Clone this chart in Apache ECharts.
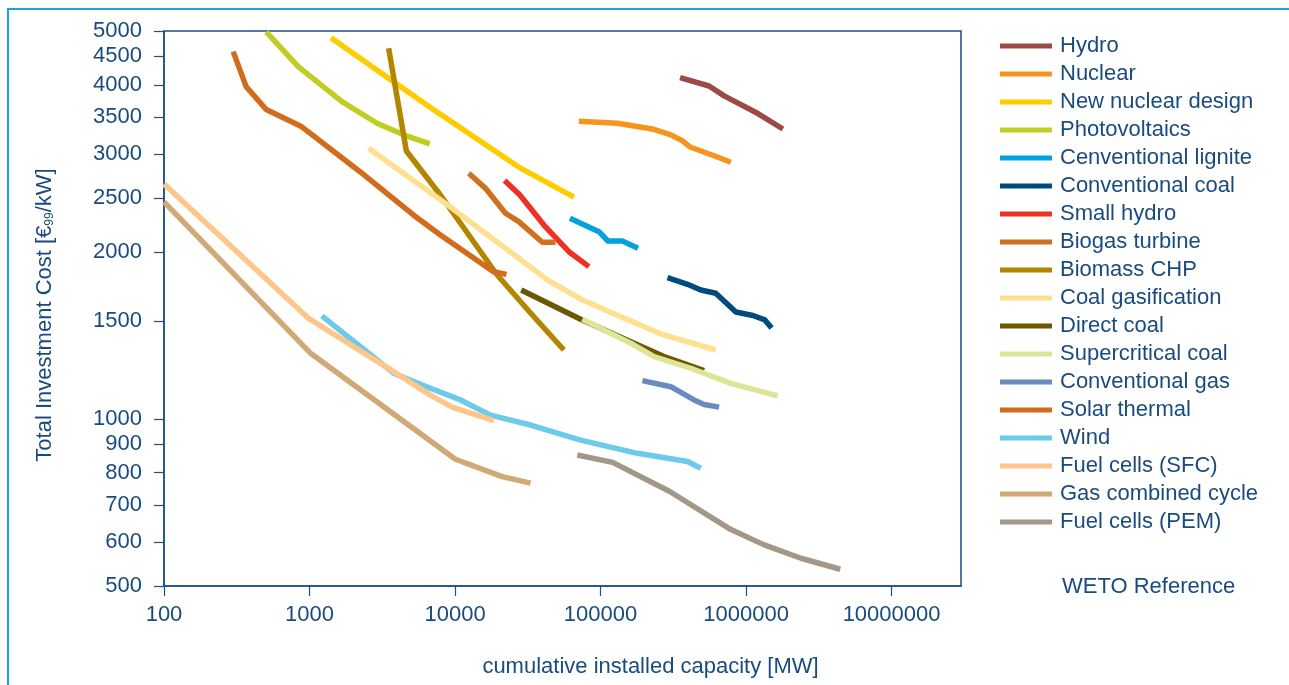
<!DOCTYPE html>
<html>
<head>
<meta charset="utf-8">
<script src="https://cdn.jsdelivr.net/npm/echarts@6/dist/echarts.min.js"></script>
<style>
html,body{margin:0;padding:0;background:#fff;}
#chart{width:1289px;height:685px;}
</style>
</head>
<body>
<div id="chart"></div>
<script>
// ---- data (x: cumulative installed capacity MW, y: investment cost EUR99/kW) ----
const seriesNames = ["Hydro","Nuclear","New nuclear design","Photovoltaics","Cenventional lignite","Conventional coal","Small hydro","Biogas turbine","Biomass CHP","Coal gasification","Direct coal","Supercritical coal","Conventional gas","Solar thermal","Wind","Fuel cells (SFC)","Gas combined cycle","Fuel cells (PEM)"];
const seriesColors = ["#9b4a46","#f7941d","#ffcc00","#c1cd23","#00a3dd","#004a80","#ee3124","#d0711f","#b38600","#ffe08f","#6b5800","#dde597","#6a8bbd","#d26b1c","#6ccaea","#ffc68b","#d1a976","#a3978a"];

const hydro = [[352000,4120],[557000,3980],[707000,3820],[1206000,3550],[1792000,3330]];
const nuclear = [[71000,3440],[130500,3410],[227000,3330],[304000,3250],[366000,3170],[412000,3090],[603000,2980],[786000,2900]];
const newNuclear = [[1404,4860],[3320,4150],[6770,3640],[28200,2830],[65600,2510]];
const photovoltaics = [[504,4980],[840,4310],[1671,3730],[2910,3410],[4436,3250],[6697,3130]];
const lignite = [[61600,2300],[97500,2175],[112400,2092],[141200,2092],[180900,2030]];
const convCoal = [[288300,1797],[395800,1748],[488600,1707],[619000,1684],[851000,1558],[1114000,1536],[1347000,1508],[1498000,1458]];
const smallHydro = [[21900,2688],[27900,2532],[40800,2235],[60600,2001],[83200,1881]];
const biogas = [[12430,2771],[16190,2603],[22230,2347],[27440,2267],[39770,2081],[49090,2081]];
const biomass = [[3498,4654],[4629,3039],[7935,2532],[19490,1817],[33040,1552],[55970,1331]];
const coalGasification = [[2547,3074],[9296,2409],[44150,1773],[75300,1638],[144200,1520],[271600,1417],[619000,1331]];
const directCoal = [[28500,1707],[72950,1512],[161200,1378],[273200,1295],[514700,1222]];
const supercritical = [[74940,1512],[161200,1369],[233100,1295],[416900,1234],[786000,1159],[1648000,1100]];
const convGas = [[194000,1172],[303800,1143],[439300,1082],[514700,1062],[652900,1050]];
const solarThermal = [[299,4590],[367,3970],[504,3610],[886,3360],[2234,2786],[5172,2331],[7935,2145],[18380,1842],[22590,1822]];
const wind = [[1217,1533],[3785,1209],[6772,1136],[10900,1082],[17520,1016],[33040,975],[72950,916],[179200,867],[395800,838],[488600,815]];
const fuelCellsSFC = [[100,2651],[984,1518],[3785,1217],[6772,1104],[9550,1050],[18470,993]];
const gasCombined = [[100,2460],[1011,1315],[10060,846],[21100,787],[33040,766]];
const fuelCellsPEM = [[69220,861],[121200,835],[299000,740],[761500,635],[1332000,593],[2384000,561],[4443000,536]];

const allSeriesData = [hydro,nuclear,newNuclear,photovoltaics,lignite,convCoal,smallHydro,biogas,biomass,coalGasification,directCoal,supercritical,convGas,solarThermal,wind,fuelCellsSFC,gasCombined,fuelCellsPEM];

const yearLabels = ["2000","2010","2030"];
const yearLabelPos = [[640000,745],[2580000,631],[8200000,564]];

const xTicks = [100,1000,10000,100000,1000000,10000000];
const yTicks = [500,600,700,800,900,1000,1500,2000,2500,3000,3500,4000,4500,5000];

// ---- chart ----
const TXT = '#1a4b7e';
const AX = '#1d4f84';
const FONT = 'Liberation Sans, Arial, Helvetica, sans-serif';

const series = seriesNames.map((n, i) => ({
  name: n,
  type: 'line',
  data: allSeriesData[i],
  symbol: 'none',
  smooth: false,
  lineStyle: { width: 5.5, color: seriesColors[i], cap: 'butt', join: 'round' },
  itemStyle: { color: seriesColors[i] },
  silent: true,
  z: 2 + i
}));

series.push({
  name: 'years',
  type: 'scatter',
  symbolSize: 1,
  itemStyle: { opacity: 0 },
  silent: true,
  data: yearLabels.map((t, i) => ({ name: t, value: yearLabelPos[i] })),
  label: { show: true, position: 'inside', formatter: '{b}', color: TXT, fontSize: 22, fontFamily: FONT },
  z: 30
});

const chart = echarts.init(document.getElementById('chart'), null, { renderer: 'canvas' });
chart.setOption({
  animation: false,
  backgroundColor: '#ffffff',
  textStyle: { fontFamily: FONT },
  grid: { left: 164, right: 328, top: 31, bottom: 99, show: true, borderColor: AX, borderWidth: 1.5, backgroundColor: 'transparent' },
  xAxis: {
    type: 'log', logBase: 10, min: 100, max: 30000000,
    name: 'cumulative installed capacity [MW]',
    nameLocation: 'middle', nameGap: 70,
    nameTextStyle: { color: TXT, fontSize: 22, fontFamily: FONT, padding: [0, 0, 0, 176] },
    axisLine: { show: true, lineStyle: { color: AX, width: 1.5 } },
    axisTick: { show: true, length: 10, inside: false, lineStyle: { color: AX, width: 1.2 }, customValues: xTicks },
    axisLabel: { color: TXT, fontSize: 22, fontFamily: FONT, margin: 18, customValues: xTicks, formatter: v => String(Math.round(v)) },
    splitLine: { show: false },
    minorTick: { show: false }
  },
  yAxis: {
    type: 'log', logBase: 10, min: 500, max: 5000,
    name: '{a|Total Investment Cost [€}{s|99}{a|/kW]}',
    nameLocation: 'middle', nameGap: 108,
    nameTextStyle: {
      color: TXT, fontSize: 22, fontFamily: FONT, padding: [0, 13, 0, 0],
      rich: {
        a: { color: TXT, fontSize: 22, fontFamily: FONT },
        s: { color: TXT, fontSize: 12, fontFamily: FONT, verticalAlign: 'bottom' }
      }
    },
    axisLine: { show: true, lineStyle: { color: AX, width: 1.5 } },
    axisTick: { show: true, length: 10, inside: false, lineStyle: { color: AX, width: 1.2 }, customValues: yTicks },
    axisLabel: { color: TXT, fontSize: 22, fontFamily: FONT, margin: 22, customValues: yTicks, formatter: v => String(Math.round(v)) },
    splitLine: { show: false },
    minorTick: { show: false }
  },
  legend: {
    data: seriesNames.map(n => ({ name: n, icon: 'rect' })),
    orient: 'vertical',
    left: 1000, top: 35,
    padding: 0,
    itemWidth: 52, itemHeight: 5, itemGap: 6,
    selectedMode: false,
    textStyle: { color: TXT, fontSize: 22, lineHeight: 22, fontFamily: FONT, padding: [0, 0, 0, 3] }
  },
  graphic: [
    { type: 'rect', silent: true, z: -10, shape: { x: 8, y: 9, width: 1400, height: 800 }, style: { fill: 'none', stroke: '#1aa3dc', lineWidth: 2 } },
    { type: 'text', silent: true, left: 1062, top: 576, style: { text: 'WETO Reference', fill: TXT, fontSize: 22, fontFamily: FONT } }
  ],
  series: series
});
</script>
</body>
</html>
